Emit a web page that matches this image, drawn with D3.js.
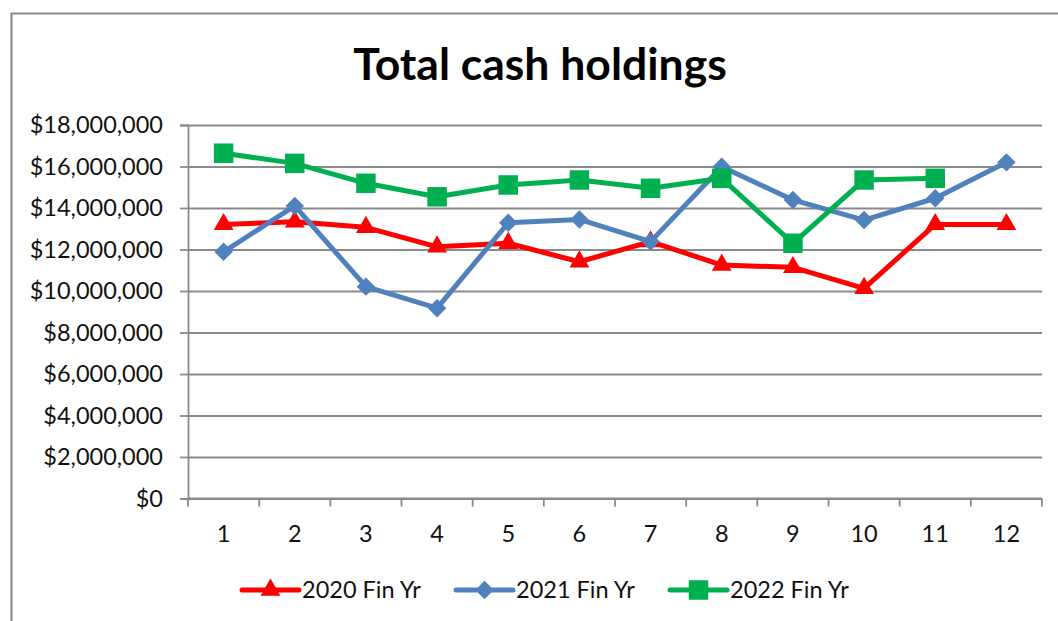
<!DOCTYPE html>
<html>
<head>
<meta charset="utf-8">
<script src="https://cdn.jsdelivr.net/npm/d3@7/dist/d3.min.js"></script>
<style>
  body { margin: 0; background: #fff; }
  svg { display: block; font-family: Lato, "Open Sans", sans-serif; }
</style>
</head>
<body>
<div id="chart-area"></div>
<script>
// Data
var months = ["1", "2", "3", "4", "5", "6", "7", "8", "9", "10", "11", "12"];
var seriesNames = ["2020 Fin Yr", "2021 Fin Yr", "2022 Fin Yr"];
var fy2020 = [13210000, 13340000, 13070000, 12130000, 12300000, 11410000, 12380000, 11250000, 11140000, 10130000, 13210000, 13210000];
var fy2021 = [11890000, 14100000, 10210000, 9170000, 13290000, 13450000, 12380000, 15990000, 14390000, 13420000, 14470000, 16200000];
var fy2022 = [16640000, 16150000, 15190000, 14540000, 15110000, 15350000, 14950000, 15430000, 12300000, 15350000, 15430000, null];
var yTicks = [0, 2000000, 4000000, 6000000, 8000000, 10000000, 12000000, 14000000, 16000000, 18000000];

var colors = ["#FF0000", "#4F81BD", "#00B050"];
// diamond = square turned 45deg (d3's own diamond is too tall)
var symbols = [d3.symbolTriangle, d3.symbolSquare, d3.symbolSquare];
var symRotate = [0, 45, 0];
var symSizes = [170, 170, 380];

var series = [fy2020, fy2021, fy2022].map(function(vals, i) {
    return { name: seriesNames[i], color: colors[i], symbol: symbols[i], size: symSizes[i], rot: symRotate[i],
             values: vals.map(function(v, j) { return { m: months[j], v: v }; }) };
});

var W = 1058, H = 621;
var margin = { left: 188, right: 16, top: 125, bottom: 122.5 },
    width = W - margin.left - margin.right,
    height = H - margin.top - margin.bottom;

var svg = d3.select("#chart-area")
    .append("svg")
    .attr("width", W)
    .attr("height", H);

// outer frame
svg.append("rect")
    .attr("x", 11.5).attr("y", 13.5)
    .attr("width", W + 20).attr("height", H + 20)
    .attr("fill", "none")
    .attr("stroke", "#888")
    .attr("stroke-width", 2);

// title
svg.append("text")
    .attr("x", 540)
    .attr("y", 80)
    .attr("text-anchor", "middle")
    .attr("font-size", "44.5px")
    .attr("font-weight", "bold")
    .attr("fill", "#000")
    .text("Total cash holdings");

var g = svg.append("g")
    .attr("transform", "translate(" + margin.left + "," + margin.top + ")");

// Scales
var x = d3.scaleBand().domain(months).range([0, width]);
var y = d3.scaleLinear().domain([0, 18000000]).range([height, 0]);
var cx = function(m) { return x(m) + x.bandwidth() / 2; };

// gridlines
var grid = g.append("g")
    .call(d3.axisLeft(y).tickValues(yTicks).tickSize(-width).tickFormat(""));
grid.select(".domain").remove();
grid.selectAll("line").attr("stroke", "#8a8a8a").attr("stroke-width", 1.8);

// y axis
var yAxis = g.append("g")
    .call(d3.axisLeft(y).tickValues(yTicks).tickSize(8).tickPadding(17)
        .tickFormat(function(d) { return "$" + d3.format(",")(d); }));
yAxis.select(".domain").attr("stroke", "#8a8a8a").attr("stroke-width", 1.8);
yAxis.selectAll("line").attr("stroke", "#8a8a8a").attr("stroke-width", 1.8);
yAxis.selectAll("text").attr("font-size", "23.5px").attr("fill", "#111")
    .attr("font-family", "Lato, sans-serif");

// x axis (ticks on category boundaries)
var xAxis = g.append("g").attr("transform", "translate(0," + height + ")");
xAxis.append("line")
    .attr("x1", 0).attr("x2", width)
    .attr("stroke", "#8a8a8a").attr("stroke-width", 1.8);
xAxis.selectAll(".xt")
    .data(months.concat(["end"]))
    .enter().append("line")
    .attr("class", "xt")
    .attr("x1", function(d, i) { return i * x.step(); })
    .attr("x2", function(d, i) { return i * x.step(); })
    .attr("y1", 0).attr("y2", 8)
    .attr("stroke", "#8a8a8a").attr("stroke-width", 1.8);
xAxis.selectAll(".xl")
    .data(months)
    .enter().append("text")
    .attr("class", "xl")
    .attr("x", cx)
    .attr("y", 43.5)
    .attr("text-anchor", "middle")
    .attr("font-size", "23.5px")
    .attr("fill", "#111")
    .text(function(d) { return d; });

// lines
var line = d3.line()
    .defined(function(d) { return d.v != null; })
    .x(function(d) { return cx(d.m); })
    .y(function(d) { return y(d.v); });

series.forEach(function(s) {
    g.append("path")
        .attr("fill", "none")
        .attr("stroke", s.color)
        .attr("stroke-width", 5)
        .attr("stroke-linejoin", "round")
        .attr("d", line(s.values));
});

series.forEach(function(s) {
    g.selectAll(null)
        .data(s.values.filter(function(d) { return d.v != null; }))
        .enter().append("path")
        .attr("transform", function(d) {
            return "translate(" + cx(d.m) + "," + y(d.v) + ") rotate(" + s.rot + ")";
        })
        .attr("d", d3.symbol().type(s.symbol).size(s.size))
        .attr("fill", s.color);
});

// legend
var legX = [242, 456, 670];
var leg = svg.append("g");
series.forEach(function(s, i) {
    var lg = leg.append("g").attr("transform", "translate(" + legX[i] + ",590)");
    lg.append("line")
        .attr("x1", 0).attr("x2", 57)
        .attr("stroke", s.color).attr("stroke-width", 5)
        .attr("stroke-linecap", "round");
    lg.append("path")
        .attr("transform", "translate(28.5,0) rotate(" + s.rot + ")")
        .attr("d", d3.symbol().type(s.symbol).size(s.size))
        .attr("fill", s.color);
    lg.append("text")
        .attr("x", 60)
        .attr("y", 8)
        .attr("font-size", "23.5px")
        .attr("fill", "#111")
        .text(s.name);
});
</script>
</body>
</html>
